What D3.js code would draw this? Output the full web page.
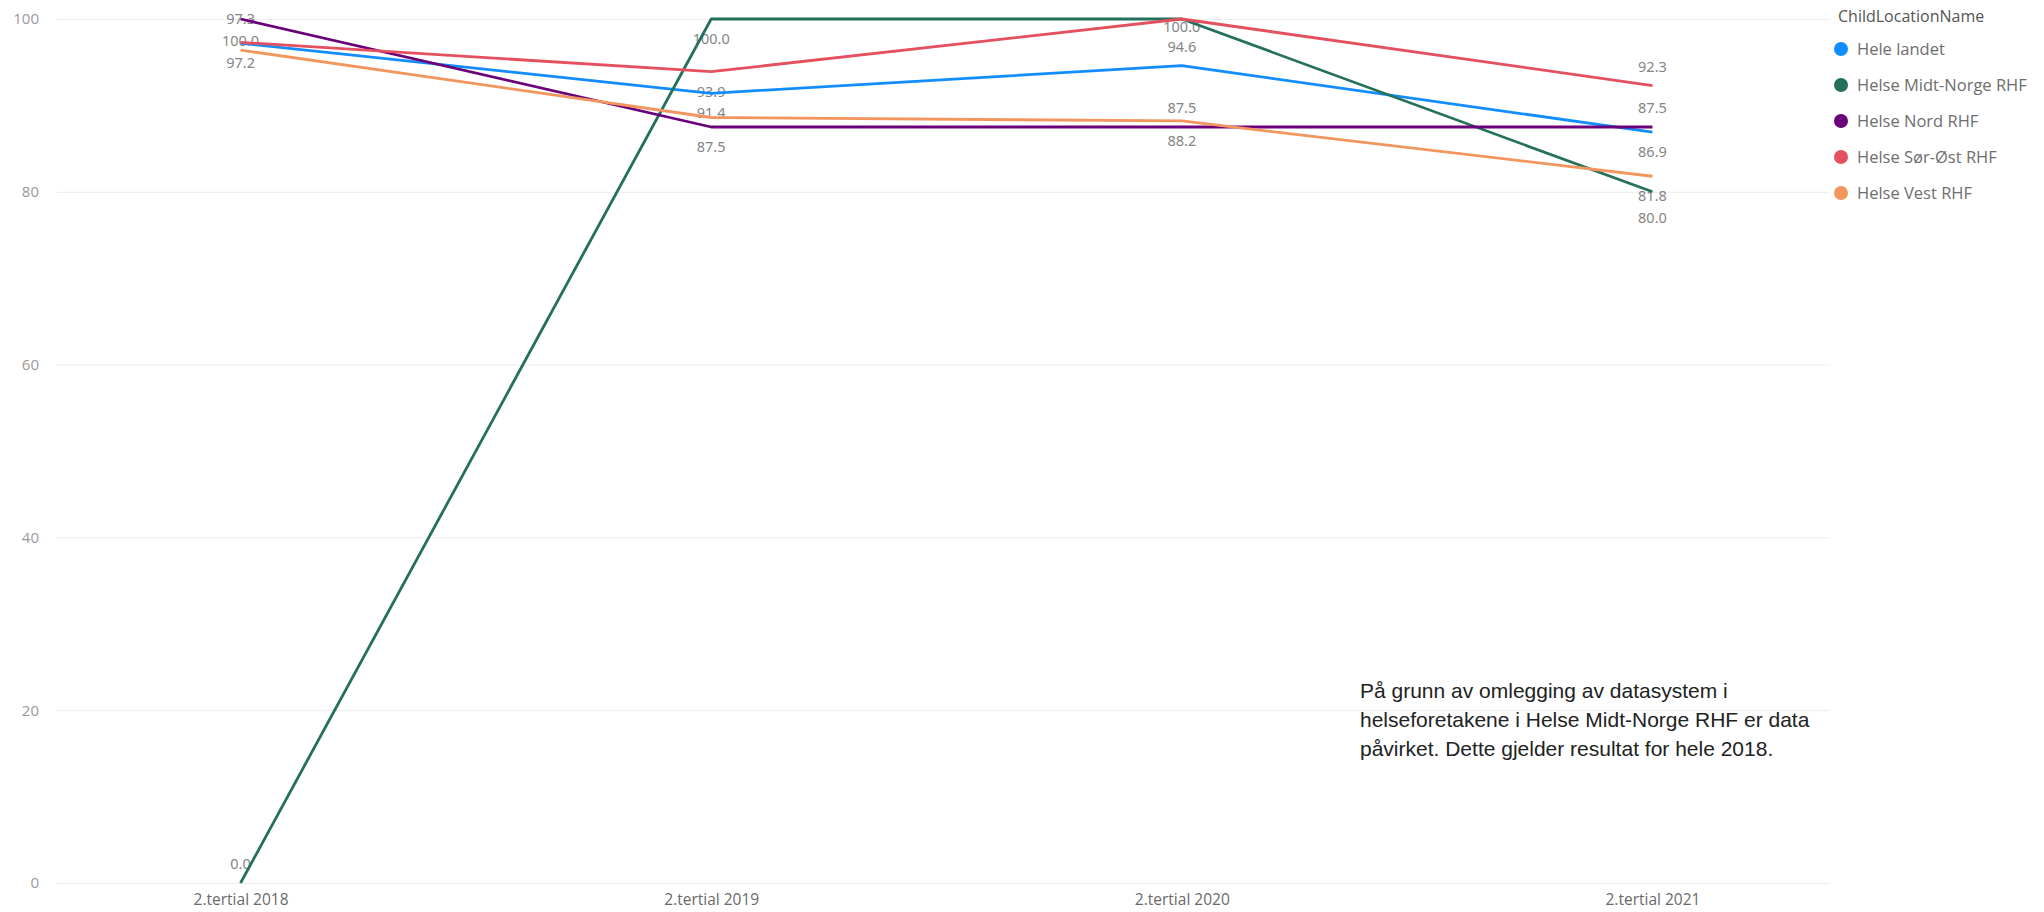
<!DOCTYPE html>
<html><head><meta charset="utf-8">
<script src="https://cdn.jsdelivr.net/npm/d3@7"></script>
<style>
body{margin:0;background:#fff;}
svg{display:block;}
</style></head>
<body>
<svg id="chart" width="2044" height="912"></svg>
<script>
const categories = ["2.tertial 2018","2.tertial 2019","2.tertial 2020","2.tertial 2021"];
const seriesNames = ["Hele landet","Helse Midt-Norge RHF","Helse Nord RHF","Helse Sør-Øst RHF","Helse Vest RHF"];
const heleLandet = [97.2, 91.4, 94.6, 86.9];
const midtNorge  = [0.0, 100.0, 100.0, 80.0];
const nord       = [100.0, 87.5, 87.5, 87.5];
const sorOst     = [97.3, 93.9, 100.0, 92.3];
const vest       = [96.4, 88.6, 88.2, 81.8];
const yTicks = [0, 20, 40, 60, 80, 100];
const legendTitle = "ChildLocationName";
const noteLines = ["På grunn av omlegging av datasystem i","helseforetakene i Helse Midt-Norge RHF er data","påvirket. Dette gjelder resultat for hele 2018."];
// label placement per series/category: a/A = above, b/B/d = below, c = just below (overlapped), '' = hidden
const labelPlace = [
  ["b","b","a","b"],
  ["a","b","c","d"],
  ["B","b","a","a"],
  ["A","b","","a"],
  ["","","b","b"]
];
const colors = ["#118DFF","#25705A","#6B007B","#E5505E","#F2965E"];
const values = [heleLandet, midtNorge, nord, sorOst, vest];

const svg = d3.select("#chart");
const gridL = 57, gridR = 1830;
const x = d3.scalePoint().domain(categories).range([57, 1836]).padding(0.39);
const y = d3.scaleLinear().domain([0,100]).range([883, 19]);

// y axis with gridlines
const yAxis = svg.append("g").attr("transform",`translate(${gridL},0)`)
  .call(d3.axisLeft(y).tickValues(yTicks).tickSize(-(gridR-gridL)).tickPadding(18).tickFormat(d3.format("d")));
yAxis.select(".domain").remove();
yAxis.selectAll(".tick line").attr("stroke","#ececec").attr("stroke-width",1);
yAxis.selectAll(".tick text").attr("fill","#9a9a9a").style("font-family","'Open Sans', sans-serif").style("font-size","15px");

// x axis
const xAxis = svg.append("g").attr("transform",`translate(0,883)`)
  .call(d3.axisBottom(x).tickSize(0).tickPadding(11));
xAxis.select(".domain").remove();
xAxis.selectAll(".tick text").attr("fill","#6a6a6a").style("font-family","'Open Sans', sans-serif").style("font-size","15.5px");

// data labels (below lines)
const offs = {a:-19, A:-23, b:20, B:22, c:8, d:26};
const lbl = svg.append("g");
values.forEach((vals, si) => {
  vals.forEach((v, ci) => {
    const p = labelPlace[si][ci];
    if (!p) return;
    lbl.append("text")
      .attr("x", x(categories[ci]))
      .attr("y", y(v) + offs[p])
      .attr("dy","0.35em")
      .attr("text-anchor","middle")
      .attr("fill","#858585")
      .style("font-family","'Noto Sans', sans-serif")
      .style("font-size","14.5px")
      .text(d3.format(".1f")(v));
  });
});

// lines
const line = d3.line().x((d,i)=>x(categories[i])).y(d=>y(d));
values.forEach((vals, si) => {
  svg.append("path").datum(vals)
    .attr("d", line)
    .attr("fill","none")
    .attr("stroke", colors[si])
    .attr("stroke-width", 2.8)
    .attr("stroke-linejoin","round");
});

// legend
const lg = svg.append("g");
lg.append("text").attr("x",1838).attr("y",16).attr("dy","0.35em")
  .attr("fill","#555").style("font-family","'Open Sans', sans-serif").style("font-size","16px").text(legendTitle);
const legY = d3.scalePoint().domain(seriesNames).range([49, 193]);
seriesNames.forEach((n, i) => {
  lg.append("circle").attr("cx",1841).attr("cy",legY(n)).attr("r",7).attr("fill",colors[i]);
  lg.append("text").attr("x",1857).attr("y",legY(n)).attr("dy","0.35em")
    .attr("fill","#6e6e6e").style("font-family","'Open Sans', sans-serif").style("font-size","16.5px").text(n);
});

// annotation
const nx = 1360, ny = 698;
const note = svg.append("text").attr("x",nx).attr("y",ny)
  .attr("fill","#222").style("font-family","'Liberation Sans', Arial, sans-serif").style("font-size","21px");
noteLines.forEach((t,i)=>{
  note.append("tspan").attr("x",nx).attr("y",ny + i*29).text(t);
});
</script>
</body></html>
